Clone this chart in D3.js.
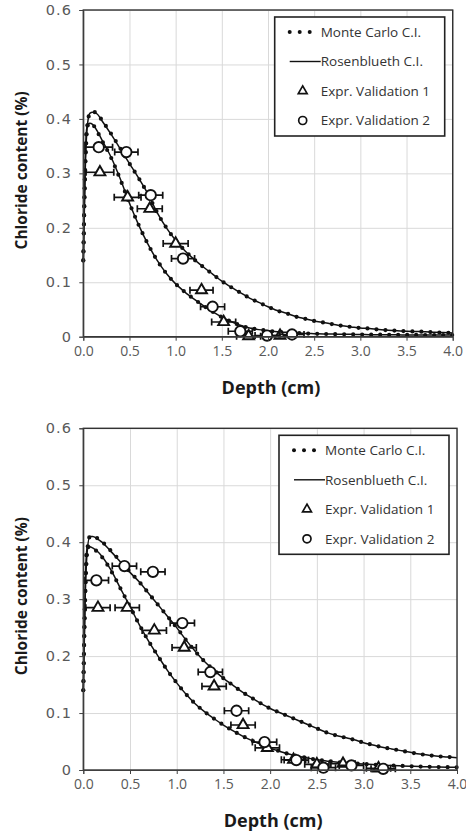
<!DOCTYPE html>
<html lang="en">
  <head>
    <meta charset="UTF-8" />
    <title>Chloride content vs depth</title>
    <script src="https://d3js.org/d3.v7.min.js"></script>
    <style>
      body { margin: 0; background: #fff; }
      svg { display: block; }
      .grid line { stroke: #d9d9d9; stroke-width: 1; }
      .grid path { display: none; }
      .axis path, .axis line { stroke: #404040; }
      .axis text { fill: #595959; font-family: "Open Sans", sans-serif; }
      .title { fill: #1a1a1a; font-family: "Open Sans", sans-serif; font-weight: bold; }
      .legend text { fill: #333; font-family: "Open Sans", sans-serif; font-size: 13.5px; }
    </style>
  </head>
  <body>
    <svg id="chart" width="466" height="832"></svg>

    <script>
      // depth (cm) for the confidence interval curves
      const depth = [0, 0.02, 0.04, 0.07, 0.1, 0.15, 0.2, 0.3, 0.4, 0.5, 0.6, 0.7, 0.8, 0.9, 1.0,
        1.1, 1.2, 1.3, 1.4, 1.5, 1.6, 1.7, 1.8, 1.9, 2.0, 2.1, 2.2, 2.3, 2.4, 2.5, 2.6, 2.7,
        2.8, 2.9, 3.0, 3.1, 3.2, 3.3, 3.4, 3.5, 3.6, 3.7, 3.8, 3.9, 4.0];

      // top chart
      const topRosUpper = [0.14, 0.30, 0.38, 0.41, 0.412, 0.409, 0.397, 0.372, 0.345, 0.318, 0.291, 0.262,
        0.228, 0.200, 0.177, 0.158, 0.142, 0.128, 0.115, 0.102, 0.091, 0.081, 0.071, 0.063, 0.055,
        0.048, 0.043, 0.037, 0.033, 0.029, 0.026, 0.023, 0.020, 0.018, 0.016, 0.015, 0.013, 0.012,
        0.011, 0.010, 0.0095, 0.009, 0.008, 0.0075, 0.007];
      const topRosLower = [0.14, 0.32, 0.385, 0.392, 0.39, 0.378, 0.362, 0.33, 0.29, 0.245, 0.205, 0.17,
        0.14, 0.116, 0.097, 0.082, 0.069, 0.057, 0.046, 0.036, 0.028, 0.021, 0.016, 0.013, 0.011,
        0.009, 0.008, 0.007, 0.006, 0.0055, 0.005, 0.0048, 0.0045, 0.0043, 0.004, 0.0038, 0.0037,
        0.0035, 0.0034, 0.0033, 0.0032, 0.0031, 0.003, 0.003, 0.003];
      const topMcUpper = [0.14, 0.30, 0.38, 0.41, 0.413, 0.41, 0.398, 0.373, 0.346, 0.318, 0.291, 0.262,
        0.228, 0.200, 0.177, 0.158, 0.142, 0.128, 0.115, 0.102, 0.091, 0.081, 0.071, 0.063, 0.055,
        0.048, 0.043, 0.037, 0.033, 0.029, 0.026, 0.023, 0.020, 0.018, 0.016, 0.015, 0.013, 0.012,
        0.011, 0.010, 0.0095, 0.009, 0.008, 0.0075, 0.007];
      const topMcLower = [0.14, 0.32, 0.385, 0.392, 0.39, 0.377, 0.361, 0.329, 0.289, 0.245, 0.205, 0.17,
        0.14, 0.116, 0.097, 0.082, 0.069, 0.057, 0.046, 0.036, 0.028, 0.021, 0.016, 0.013, 0.011,
        0.009, 0.008, 0.007, 0.006, 0.0055, 0.005, 0.0048, 0.0045, 0.0043, 0.004, 0.0038, 0.0037,
        0.0035, 0.0034, 0.0033, 0.0032, 0.0031, 0.003, 0.003, 0.003];
      const topTriX = [0.18, 0.48, 0.72, 1.0, 1.28, 1.52, 1.79, 2.13];
      const topTriY = [0.302, 0.256, 0.235, 0.171, 0.0855, 0.027, 0.001, 0.002];
      const topTriErr = [0.15, 0.145, 0.135, 0.135, 0.125, 0.13, 0.13, 0.13];
      const topCirX = [0.167, 0.466, 0.73, 1.08, 1.40, 1.70, 1.99, 2.26];
      const topCirY = [0.348, 0.339, 0.26, 0.1435, 0.055, 0.010, 0.002, 0.004];
      const topCirErr = [0.15, 0.126, 0.13, 0.125, 0.13, 0.13, 0.13, 0.13];

      // bottom chart
      const botRosUpper = [0.14, 0.30, 0.38, 0.41, 0.41, 0.406, 0.40, 0.383, 0.365, 0.347, 0.330, 0.310,
        0.290, 0.270, 0.250, 0.228, 0.208, 0.190, 0.175, 0.161, 0.149, 0.137, 0.127, 0.117, 0.108,
        0.101, 0.094, 0.087, 0.080, 0.073, 0.066, 0.061, 0.057, 0.053, 0.048, 0.044, 0.040, 0.037,
        0.034, 0.031, 0.028, 0.026, 0.024, 0.023, 0.0215];
      const botRosLower = [0.14, 0.32, 0.39, 0.392, 0.39, 0.384, 0.375, 0.35, 0.318, 0.287, 0.255, 0.226,
        0.200, 0.175, 0.153, 0.133, 0.116, 0.102, 0.090, 0.079, 0.069, 0.060, 0.052, 0.045, 0.038,
        0.033, 0.028, 0.024, 0.021, 0.018, 0.016, 0.014, 0.0125, 0.0115, 0.0105, 0.0095, 0.0085,
        0.0078, 0.0072, 0.0066, 0.006, 0.0056, 0.0052, 0.0049, 0.0047];
      const botMcUpper = [0.14, 0.30, 0.38, 0.41, 0.411, 0.407, 0.401, 0.384, 0.366, 0.348, 0.330, 0.310,
        0.290, 0.270, 0.250, 0.228, 0.208, 0.190, 0.175, 0.161, 0.149, 0.137, 0.127, 0.117, 0.108,
        0.101, 0.094, 0.087, 0.080, 0.073, 0.066, 0.061, 0.057, 0.053, 0.048, 0.044, 0.040, 0.037,
        0.034, 0.031, 0.028, 0.026, 0.024, 0.023, 0.0215];
      const botMcLower = [0.14, 0.32, 0.39, 0.392, 0.39, 0.383, 0.374, 0.349, 0.318, 0.287, 0.255, 0.226,
        0.200, 0.175, 0.153, 0.133, 0.116, 0.102, 0.090, 0.079, 0.069, 0.060, 0.052, 0.045, 0.038,
        0.033, 0.028, 0.024, 0.021, 0.018, 0.016, 0.014, 0.0125, 0.0115, 0.0105, 0.0095, 0.0085,
        0.0078, 0.0072, 0.0066, 0.006, 0.0056, 0.0052, 0.0049, 0.0047];
      const botTriX = [0.157, 0.47, 0.76, 1.08, 1.40, 1.71, 1.97, 2.25, 2.50, 2.78, 3.16];
      const botTriY = [0.285, 0.285, 0.245, 0.215, 0.147, 0.079, 0.039, 0.018, 0.010, 0.011, 0.003];
      const botCirX = [0.14, 0.44, 0.745, 1.06, 1.36, 1.64, 1.94, 2.28, 2.57, 2.87, 3.21];
      const botCirY = [0.333, 0.358, 0.348, 0.258, 0.172, 0.104, 0.049, 0.0175, 0.004, 0.008, 0.002];
      const botErr = 0.13;

      const xTicks = [0, 0.5, 1, 1.5, 2, 2.5, 3, 3.5, 4];
      const yTicks = [0, 0.1, 0.2, 0.3, 0.4, 0.5, 0.6];
      const legendLabels = ["Monte Carlo C.I.", "Rosenblueth C.I.", "Expr. Validation 1", "Expr. Validation 2"];

      const svg = d3.select("#chart");

      function drawChart(c) {
        const g = svg.append("g");
        const x = d3.scaleLinear().domain([0, 4]).range([c.left, c.right]);
        const y = d3.scaleLinear().domain([0, 0.6]).range([c.bottom, c.top]);
        const h = c.bottom - c.top;
        const w = c.right - c.left;

        // gridlines
        g.append("g")
          .attr("class", "grid")
          .attr("transform", `translate(0,${c.bottom})`)
          .call(d3.axisBottom(x).tickValues(xTicks).tickSize(-h).tickFormat(""));
        g.append("g")
          .attr("class", "grid")
          .attr("transform", `translate(${c.left},0)`)
          .call(d3.axisLeft(y).tickValues(yTicks).tickSize(-w).tickFormat(""));

        // curves
        const line = d3.line()
          .x((d) => x(d[0]))
          .y((d) => y(d[1]))
          .curve(d3.curveMonotoneX);

        [c.rosUpper, c.rosLower].forEach((vals) => {
          g.append("path")
            .datum(depth.map((d, i) => [d, vals[i]]))
            .attr("d", line)
            .attr("fill", "none")
            .attr("stroke", "#111")
            .attr("stroke-width", 1.5);
        });
        [c.mcUpper, c.mcLower].forEach((vals) => {
          g.append("path")
            .datum(depth.map((d, i) => [d, vals[i]]))
            .attr("d", line)
            .attr("fill", "none")
            .attr("stroke", "#111")
            .attr("stroke-width", 4.2)
            .attr("stroke-linecap", "round")
            .attr("stroke-dasharray", "0 9");
        });

        // experimental points with horizontal error bars
        function points(xs, ys, errs, kind) {
          const data = xs.map((d, i) => ({ x: d, y: ys[i], e: Array.isArray(errs) ? errs[i] : errs }));
          const pg = g.append("g");
          pg.selectAll(".eb")
            .data(data)
            .join("path")
            .attr("d", (d) => {
              const x0 = x(d.x - d.e), x1 = x(d.x + d.e), yy = y(d.y);
              return `M${x0},${yy}H${x1}M${x0},${yy - 3.5}V${yy + 3.5}M${x1},${yy - 3.5}V${yy + 3.5}`;
            })
            .attr("fill", "none")
            .attr("stroke", "#111")
            .attr("stroke-width", 1.7);
          if (kind === "tri") {
            pg.selectAll(".m")
              .data(data)
              .join("path")
              .attr("d", d3.symbol(d3.symbolTriangle, 52))
              .attr("transform", (d) => `translate(${x(d.x)},${y(d.y)})`)
              .attr("fill", "#fff")
              .attr("stroke", "#111")
              .attr("stroke-width", 1.9);
          } else {
            pg.selectAll(".m")
              .data(data)
              .join("circle")
              .attr("cx", (d) => x(d.x))
              .attr("cy", (d) => y(d.y))
              .attr("r", 5.2)
              .attr("fill", "#fff")
              .attr("stroke", "#111")
              .attr("stroke-width", 1.9);
          }
        }
        points(c.triX, c.triY, c.triErr, "tri");
        points(c.cirX, c.cirY, c.cirErr, "cir");

        // frame
        g.append("rect")
          .attr("x", c.left)
          .attr("y", c.top)
          .attr("width", w)
          .attr("height", h)
          .attr("fill", "none")
          .attr("stroke", "#333")
          .attr("stroke-width", 1.4);

        // axes
        const xa = g.append("g")
          .attr("class", "axis")
          .attr("transform", `translate(0,${c.bottom})`)
          .call(d3.axisBottom(x).tickValues(xTicks).tickSize(4).tickPadding(5).tickFormat(d3.format(".1f")));
        xa.selectAll("text").style("font-size", "14px");
        const ya = g.append("g")
          .attr("class", "axis")
          .attr("transform", `translate(${c.left},0)`)
          .call(d3.axisLeft(y).tickValues(yTicks).tickSize(4).tickPadding(7)
            .tickFormat((d) => (d === 0 ? "0" : d3.format(".1f")(d))));
        ya.selectAll("text")
          .style("font-family", "'DejaVu Sans', sans-serif")
          .style("font-size", "14.5px")
          .style("letter-spacing", "1.2px");

        // axis titles
        g.append("text")
          .attr("class", "title")
          .attr("x", (c.left + c.right) / 2 + 3)
          .attr("y", c.bottom + 57)
          .attr("text-anchor", "middle")
          .style("font-size", "18px")
          .text("Depth (cm)");
        g.append("text")
          .attr("class", "title")
          .attr("transform", `translate(27,${(c.top + c.bottom) / 2 - 3}) rotate(-90)`)
          .attr("text-anchor", "middle")
          .style("font-size", "15.5px")
          .text("Chloride content (%)");

        // legend
        const lw = 170, lh = 119;
        const lg = g.append("g")
          .attr("class", "legend")
          .attr("transform", `translate(${c.right - 8 - lw},${c.top + 7})`);
        lg.append("rect")
          .attr("width", lw)
          .attr("height", lh)
          .attr("fill", "#fff")
          .attr("stroke", "#222")
          .attr("stroke-width", 1.6);
        legendLabels.forEach((label, i) => {
          const yy = 15 + i * 29.5;
          if (i === 0) {
            [15, 25, 35].forEach((dx) => lg.append("circle").attr("cx", dx).attr("cy", yy).attr("r", 2).attr("fill", "#111"));
          } else if (i === 1) {
            lg.append("line").attr("x1", 15).attr("x2", 46).attr("y1", yy).attr("y2", yy)
              .attr("stroke", "#111").attr("stroke-width", 1.4);
          } else if (i === 2) {
            lg.append("path").attr("d", d3.symbol(d3.symbolTriangle, 34))
              .attr("transform", `translate(28,${yy})`)
              .attr("fill", "#fff").attr("stroke", "#111").attr("stroke-width", 1.7);
          } else {
            lg.append("circle").attr("cx", 28).attr("cy", yy).attr("r", 4)
              .attr("fill", "#fff").attr("stroke", "#111").attr("stroke-width", 1.7);
          }
          lg.append("text")
            .attr("x", 46)
            .attr("y", yy)
            .attr("dy", "0.35em")
            .text(label);
        });
      }

      drawChart({
        left: 83.3, right: 452.7, top: 10, bottom: 336.7,
        rosUpper: topRosUpper, rosLower: topRosLower, mcUpper: topMcUpper, mcLower: topMcLower,
        triX: topTriX, triY: topTriY, triErr: topTriErr,
        cirX: topCirX, cirY: topCirY, cirErr: topCirErr
      });
      drawChart({
        left: 83.3, right: 457, top: 428.3, bottom: 770,
        rosUpper: botRosUpper, rosLower: botRosLower, mcUpper: botMcUpper, mcLower: botMcLower,
        triX: botTriX, triY: botTriY, triErr: botErr,
        cirX: botCirX, cirY: botCirY, cirErr: botErr
      });
    </script>
  </body>
</html>
